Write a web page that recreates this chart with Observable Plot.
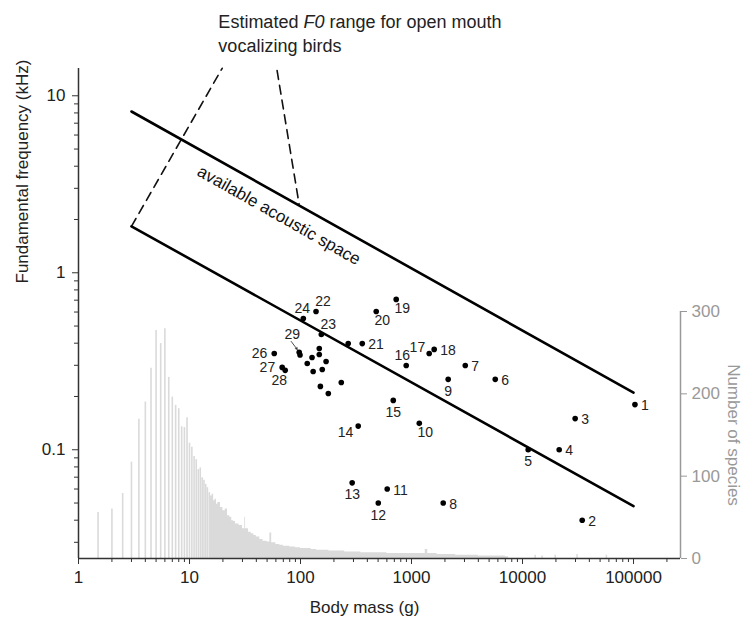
<!DOCTYPE html>
<html><head><meta charset="utf-8">
<script src="https://cdn.jsdelivr.net/npm/d3@7"></script>
<script src="https://cdn.jsdelivr.net/npm/@observablehq/plot@0.6"></script>
<style>
body{margin:0;background:#fff;}
#wrap{position:relative;width:744px;height:632px;}
#wrap svg{position:absolute;left:0;top:0;}
</style></head><body><div id="wrap"></div>
<script>
// ---- species points (body mass g, F0 kHz) ----
const pointIds   = [1,2,3,4,5,6,7,8,9,10,11,12,13,14,15,16,17,18,19,20,21,22,23,24,26,27,28,29];
const pointMass  = [103000,34500,29800,21400,11250,5680,3050,1930,2140,1175,604,502,292,331,685,896,1443,1600,728,481,360,138,154,106,58,68.4,72.8,97.3];
const pointF0    = [0.180,0.040,0.150,0.100,0.100,0.250,0.299,0.050,0.250,0.141,0.060,0.050,0.065,0.136,0.190,0.299,0.350,0.369,0.707,0.604,0.398,0.604,0.448,0.552,0.350,0.292,0.281,0.355];
const labelPlace = ["r","r","r","r","b","r","r","r","b","br","r","b","b","lb","b","tw","tl","r","br","br","r","tr","tr","t","l","l","bl","a"];
// unlabeled points
const extraMass = [269,99,147.6,147.6,127,115,170,157,130,233,151,178];
const extraF0   = [0.398,0.343,0.373,0.345,0.332,0.307,0.315,0.284,0.277,0.240,0.228,0.208];
// arrow from label 29 to its point
const arrowMass = [82.5, 93.4];
const arrowF0   = [0.409, 0.369];
// boundary lines of available acoustic space
const lineMass = [3, 100000];
const upperF0  = [8.15, 0.21];
const lowerF0  = [1.83, 0.048];
// dashed leader lines
const leftLeaderMass  = [3, 19.7];
const leftLeaderF0    = [1.83, 14.3];
const rightLeaderMass = [61.5, 97];
const rightLeaderF0   = [13.9, 2.45];
// histogram: discrete bars (0.5 g bins)
const histMass  = [1.5,2,2.5,3,3.5,4,4.5,5,5.5,6,6.5,7,7.5,8,8.5,9,9.5,10,10.5,11,11.5,12,12.5,13,13.5,14,14.5];
const histCount = [56,60,79,117,169,190,231,277,261,279,220,196,186,182,160,159,171,140,135,124,120,108,110,98,95,90,86];
// histogram: dense tail
const tailMass  = [15,15.5,16,16.5,17,17.5,18,19,20,21,22,23,24,25,26,28,30,31.5,32,34,36,38,40,43,46,50,53,55,60,65,70,80,90,100,110,125,140,160,180,200,250,300,350,400,500,600,700,850,1000,1200,1330,1400,1700,2000,2500,3000,4000,5000,6000,7000,7500];
const tailCount = [80,76,78,70,72,66,68,62,58,60,52,50,46,45,42,40,36,50,36,32,30,28,26,23,21,20,31,19,17,16,15,14,13,12,12,11,10,10,9,9,8,8,7,7,7,6,6,6,6,6,11,6,5,5,4,4,3,3,3,2,0];
// sparse large-mass bars
const sparseMass  = [13000,15000,19700,31000,57000];
const sparseCount = [4,3,4,5,4];
// ticks
const xTickMajor = [1,10,100,1000,10000,100000];
const yTickMajor = [0.1,1,10];
const countTicks = [0,100,200,300];

// ---- layout ----
const W = 744, H = 632, mL = 78, mR = 64, mT = 68, mB = 74;
const xDomain = [1, 265000];
const yDomain = [0.0243, 14.26];
const FONT = "'Liberation Sans', Arial, Helvetica, sans-serif";
const GRAY = "#999999";
const BAR = "#dadada";

const hist = histMass.map((m,i)=>({m, c: histCount[i]}));
const tail = tailMass.map((m,i)=>({m, c: tailCount[i]}));
const sparse = sparseMass.map((m,i)=>({m, c: sparseCount[i]}));

const histPlot = Plot.plot({
  width: W, height: H, marginLeft: mL, marginRight: mR, marginTop: mT, marginBottom: mB,
  style: {fontFamily: FONT, fontSize: "17px", background: "transparent", overflow: "visible"},
  x: {type: "log", domain: xDomain, axis: null},
  y: {domain: [0, 300*(H-mB-mT)/247], axis: null},
  marks: [
    Plot.areaY(tail, {x: "m", y: "c", fill: BAR, curve: "step-after"}),
    Plot.ruleX(hist, {x: "m", y1: 0, y2: "c", stroke: BAR, strokeWidth: 1.6}),
    Plot.ruleX(sparse, {x: "m", y1: 0, y2: "c", stroke: BAR, strokeWidth: 1.5}),
    Plot.ruleX([xDomain[1]], {y1: 0, y2: 300, stroke: GRAY, strokeWidth: 1.5}),
    Plot.axisY({anchor: "right", ticks: countTicks, tickSize: 6, tickPadding: 5, stroke: GRAY, fill: GRAY, label: null, tickFormat: d => String(d)}),
    Plot.text(["Number of species"], {x: xDomain[1], y: 150, dx: 53, rotate: 90, fill: GRAY, fontSize: 17})
  ]
});

const pts = pointIds.map((id,i)=>({id, m: pointMass[i], f: pointF0[i], p: labelPlace[i]}));
const extra = extraMass.map((m,i)=>({m, f: extraF0[i]}));
const upper = lineMass.map((m,i)=>({m, f: upperF0[i]}));
const lower = lineMass.map((m,i)=>({m, f: lowerF0[i]}));
const leftL = leftLeaderMass.map((m,i)=>({m, f: leftLeaderF0[i]}));
const rightL = rightLeaderMass.map((m,i)=>({m, f: rightLeaderF0[i]}));

const place = {
  r: [6, 1, "start"], l: [-7, 0, "end"], t: [-1, -10, "middle"], tw: [-4, -10, "middle"], b: [0, 12, "middle"],
  br: [6, 9, "middle"], bl: [-6, 10, "middle"], tr: [7, -10, "middle"], tl: [-4, -6, "end"],
  lb: [-5, 6, "end"], a: [-7, -18, "middle"]
};
const labelMarks = Object.entries(place).map(([k,[dx,dy,anchor]]) =>
  Plot.text(pts.filter(d => d.p === k), {x: "m", y: "f", text: d => String(d.id), dx, dy, textAnchor: anchor, fontSize: 14, fill: "#222"}));

const minorX = [];
for (const d of [1,10,100,1000,10000,100000]) for (let k=2;k<=9;k++) if (d*k < xDomain[1]) minorX.push(d*k);
const minorY = [];
for (const d of [0.01,0.1,1,10]) for (let k=2;k<=9;k++) { const v=+(d*k).toPrecision(3); if (v>yDomain[0] && v<yDomain[1]) minorY.push(v); }

const AX = "#333";
const mainPlot = Plot.plot({
  width: W, height: H, marginLeft: mL, marginRight: mR, marginTop: mT, marginBottom: mB,
  style: {fontFamily: FONT, fontSize: "17px", background: "transparent", color: "#222"},
  x: {type: "log", domain: xDomain},
  y: {type: "log", domain: yDomain},
  marks: [
    Plot.ruleX([1], {stroke: AX, strokeWidth: 1.5}),
    Plot.ruleY([yDomain[0]], {stroke: AX, strokeWidth: 1.5}),
    Plot.axisX({ticks: xTickMajor, tickSize: 6, tickPadding: 6, tickFormat: d => String(d), label: null, stroke: AX, fill: "#222"}),
    Plot.axisX({ticks: minorX, tickSize: 4, tickFormat: () => "", label: null, stroke: AX}),
    Plot.axisY({ticks: yTickMajor, tickSize: 6, tickPadding: 7, tickFormat: d => String(d), label: null, stroke: AX, fill: "#222"}),
    Plot.axisY({ticks: minorY, tickSize: 4, tickFormat: () => "", label: null, stroke: AX}),
    Plot.text(["Body mass (g)"], {frameAnchor: "bottom", dx: -15, dy: 54, fontSize: 17, fill: "#222"}),
    Plot.text(["Fundamental frequency (kHz)"], {frameAnchor: "left", rotate: -90, dx: -56, dy: -30, fontSize: 17, fill: "#222"}),
    Plot.line(leftL, {x: "m", y: "f", stroke: "#111", strokeWidth: 1.6, strokeDasharray: "9,6"}),
    Plot.line(rightL, {x: "m", y: "f", stroke: "#111", strokeWidth: 1.6, strokeDasharray: "9,6"}),
    Plot.line(upper, {x: "m", y: "f", stroke: "#000", strokeWidth: 2.6}),
    Plot.line(lower, {x: "m", y: "f", stroke: "#000", strokeWidth: 2.6}),
    Plot.text(["Estimated F0 range for open mouth\nvocalizing birds"], {x: 18.2, y: 22.9, textAnchor: "start", lineHeight: 1.35, fontSize: 18, fill: "#222"}),
    Plot.text(["available acoustic space"], {x: 64, y: 2.11, rotate: 29.5, fontSize: 17, fill: "#111"}),
    Plot.dot(extra, {x: "m", y: "f", r: 2.8, fill: "#000"}),
    Plot.dot(pts, {x: "m", y: "f", r: 2.8, fill: "#000"}),
    Plot.arrow([0], {x1: arrowMass[0], y1: arrowF0[0], x2: arrowMass[1], y2: arrowF0[1], stroke: "#222", strokeWidth: 0.8, headLength: 4}),
    ...labelMarks
  ]
});

// italicize "F0" in the annotation
d3.select(mainPlot).selectAll("text, tspan").each(function() {
  if (this.childElementCount === 0 && this.textContent.includes("F0")) {
    const parts = this.textContent.split("F0");
    const s = d3.select(this);
    s.text(null);
    s.append("tspan").text(parts[0]);
    s.append("tspan").attr("font-style", "italic").text("F0");
    s.append("tspan").text(parts[1]);
  }
});

const wrap = document.getElementById("wrap");
wrap.appendChild(histPlot);
wrap.appendChild(mainPlot);
</script></body></html>
